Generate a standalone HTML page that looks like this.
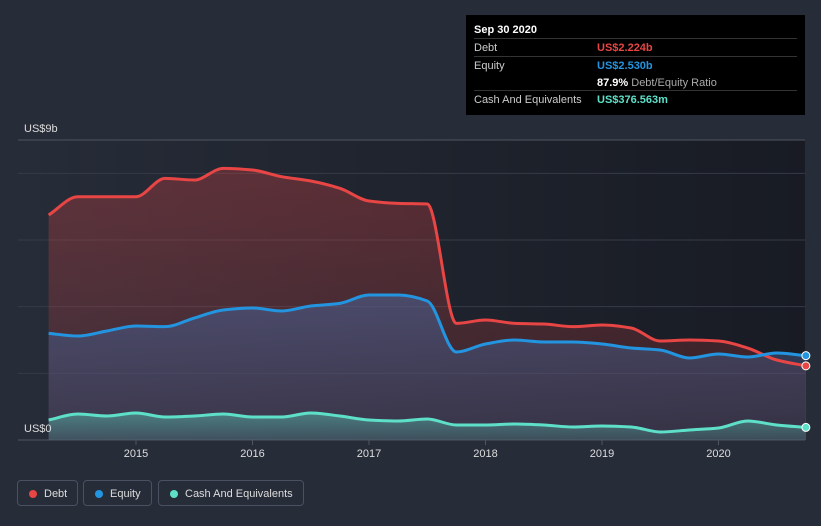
<!DOCTYPE html>
<html><head><meta charset="utf-8"><style>
body{margin:0;width:821px;height:526px;background:#262c38;font-family:"Liberation Sans",sans-serif;overflow:hidden;position:relative}
.tip{position:absolute;left:466px;top:15px;width:339px;height:100px;background:#000;color:#fff;font-size:11px}
.tip .h{position:absolute;left:8px;top:9px;font-weight:bold;font-size:11px}
.row{position:absolute;left:8px;width:323px;border-top:1px solid #333;height:18px;line-height:18px}
.row span.l{color:#ccc}.row span.v{position:absolute;left:123px;font-weight:bold}
.leg{position:absolute;top:480px;height:26px;border:1px solid #4a5160;border-radius:4px;color:#ddd;font-size:11px;line-height:26px;padding:0 10px 0 26px;box-sizing:border-box}
.leg i{position:absolute;left:11px;top:9px;width:8px;height:8px;border-radius:50%}
</style></head><body>
<svg width="821" height="526" style="position:absolute;left:0;top:0">
<defs>
<linearGradient id="bg" x1="0" x2="1"><stop offset="0" stop-color="#262c38"/><stop offset="1" stop-color="#181b23"/></linearGradient>
<linearGradient id="dg" x1="0" y1="0" x2="0" y2="1"><stop offset="0" stop-color="#e84545" stop-opacity="0.3"/><stop offset="1" stop-color="#e84545" stop-opacity="0.12"/></linearGradient>
<linearGradient id="eg" x1="0" y1="0" x2="0" y2="1"><stop offset="0" stop-color="#4a5f8f" stop-opacity="0.6"/><stop offset="1" stop-color="#3a4260" stop-opacity="0.5"/></linearGradient>
<linearGradient id="cg" x1="0" y1="0" x2="0" y2="1"><stop offset="0" stop-color="#5ee0c8" stop-opacity="0.4"/><stop offset="1" stop-color="#5ee0c8" stop-opacity="0.15"/></linearGradient>
</defs>
<rect x="18" y="140" width="787" height="300" fill="url(#bg)"/>
<g id="grid"></g><g id="areas"></g><g id="lines"></g><g id="xt"></g>
<text x="24" y="132" fill="#ddd" font-size="11">US$9b</text>
<text x="24" y="432" fill="#ddd" font-size="11">US$0</text>
</svg>
<div class="tip">
<div class="h">Sep 30 2020</div>
<div class="row" style="top:23px"><span class="l">Debt</span><span class="v" style="color:#e84545">US$2.224b</span></div>
<div class="row" style="top:41px"><span class="l">Equity</span><span class="v" style="color:#2394df">US$2.530b</span></div>
<div class="row" style="top:59px;border-top:none"><span class="v">87.9% <span style="color:#aaa;font-weight:normal">Debt/Equity Ratio</span></span></div>
<div class="row" style="top:75px"><span class="l">Cash And Equivalents</span><span class="v" style="color:#5ee0c8">US$376.563m</span></div>
</div>
<div class="leg" style="left:17px"><i style="background:#e84545"></i>Debt</div>
<div class="leg" style="left:83px"><i style="background:#2394df"></i>Equity</div>
<div class="leg" style="left:158px"><i style="background:#5ee0c8"></i>Cash And Equivalents</div>
<script>
const dates=[2014.25,2014.5,2014.75,2015,2015.25,2015.5,2015.75,2016,2016.25,2016.5,2016.75,2017,2017.25,2017.5,2017.75,2018,2018.25,2018.5,2018.75,2019,2019.25,2019.5,2019.75,2020,2020.25,2020.5,2020.75];
const debt=[6.75,7.3,7.3,7.3,7.85,7.8,8.15,8.1,7.9,7.77,7.55,7.17,7.1,7.08,3.5,3.6,3.5,3.48,3.4,3.45,3.36,2.97,3.0,2.97,2.76,2.4,2.224];
const equity=[3.2,3.12,3.27,3.42,3.4,3.66,3.9,3.96,3.87,4.02,4.1,4.35,4.35,4.17,2.64,2.88,3.0,2.94,2.94,2.88,2.76,2.7,2.46,2.58,2.49,2.61,2.53];
const cash=[0.6,0.78,0.72,0.81,0.69,0.72,0.78,0.69,0.69,0.81,0.72,0.6,0.57,0.63,0.45,0.45,0.48,0.45,0.39,0.42,0.39,0.24,0.3,0.36,0.57,0.45,0.377];
const yTicks=[0,2,4,6,8,9];
const xTicks=[2015,2016,2017,2018,2019,2020];
const X=d=>136+(d-2015)*116.5, Y=v=>440-v*33.33;
const NS='http://www.w3.org/2000/svg';
function mk(t,a,p){const e=document.createElementNS(NS,t);for(const k in a)e.setAttribute(k,a[k]);document.getElementById(p).appendChild(e);return e;}
yTicks.forEach(v=>{const e=mk('line',{x1:18,x2:805,y1:Y(v),y2:Y(v),stroke:v==0||v==9?'#50565f':'#353b47','stroke-width':1},'grid');

});
xTicks.forEach(d=>{const t=mk('text',{x:X(d),y:457,fill:'#ddd','font-size':11,'text-anchor':'middle'},'xt');t.textContent=d;


mk('line',{x1:X(d),x2:X(d),y1:440,y2:445,stroke:'#50565f'},'xt');});
function path(vals){const p=dates.map((d,i)=>[X(d),Y(vals[i])]);const n=p.length;
const s=[],m=[];for(let i=0;i<n-1;i++)s.push((p[i+1][1]-p[i][1])/(p[i+1][0]-p[i][0]));
for(let i=0;i<n;i++){if(i==0)m.push(s[0]);else if(i==n-1)m.push(s[n-2]);else m.push(s[i-1]*s[i]<=0?0:2/(1/s[i-1]+1/s[i]));}
let d='M'+p[0][0]+','+p[0][1];
for(let i=0;i<n-1;i++){const h=(p[i+1][0]-p[i][0])/3;
d+=` C${p[i][0]+h},${p[i][1]+m[i]*h} ${p[i+1][0]-h},${p[i+1][1]-m[i+1]*h} ${p[i+1][0]},${p[i+1][1]}`;}return d;}
const series=[['debt',debt,'#e84545','url(#dg)'],['equity',equity,'#2394df','url(#eg)'],['cash',cash,'#5ee0c8','url(#cg)']];
series.forEach(([n,v,c,f])=>{const d=path(v);const x0=X(dates[0]),x1=X(dates[dates.length-1]);
const a=mk('path',{d:d+` L${x1},440 L${x0},440 Z`,fill:f},'areas');


const l=mk('path',{d:d,fill:'none',stroke:c,'stroke-width':3},'lines');


const m=mk('circle',{cx:x1,cy:Y(v[v.length-1]),r:4,fill:c,stroke:'#fff','stroke-width':1},'lines');

});
</script>
</body></html>
